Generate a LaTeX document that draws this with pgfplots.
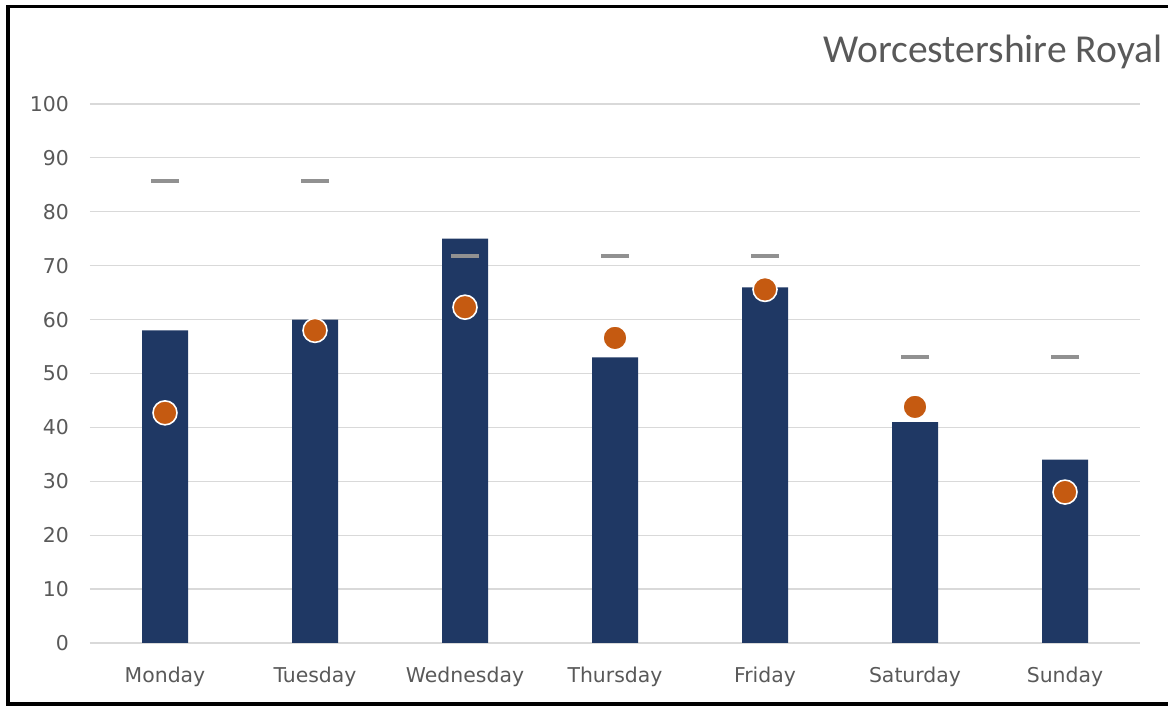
\documentclass[border=0pt]{standalone}
\usepackage{pgfplots}
\pgfplotsset{compat=1.18}
\usepackage{fontspec}
\setmainfont{DejaVu Sans}
\newfontfamily\titlefont{Carlito}
\definecolor{barnavy}{RGB}{31,56,100}
\definecolor{dotorange}{RGB}{197,90,17}
\definecolor{dashgray}{RGB}{145,145,145}
\definecolor{gridgray}{RGB}{217,217,217}
\definecolor{labelgray}{RGB}{89,89,89}

\begin{document}
\begin{tikzpicture}[x=1pt,y=1pt]
\useasboundingbox (0,0) rectangle (584,353);
\draw[line width=1.6pt] (4,1) rectangle (600,349.8);
\node[anchor=east,inner sep=0pt,text=labelgray,
  font=\titlefont\fontsize{19.8}{22}\selectfont] at (581.5,327) {Worcestershire Royal};
\begin{axis}[
  at={(45pt,31.5pt)}, anchor=south west,
  scale only axis,
  width=525pt, height=269.5pt,
  xmin=-0.5, xmax=6.5,
  ymin=0, ymax=100,
  axis line style={draw=none},
  major tick length=0pt,
  xtick={0,...,6},
  xticklabels={Monday,Tuesday,Wednesday,Thursday,Friday,Saturday,Sunday},
  ytick={0,10,...,100},
  ymajorgrids,
  grid style={draw=gridgray,line width=0.6pt},
  tick label style={font=\fontsize{10.2}{12}\selectfont,text=labelgray},
  /pgf/number format/assume math mode=true,
  xticklabel style={yshift=-8.5pt},
  yticklabel style={xshift=-7pt},
  clip=false,
]
\addplot[ybar,bar width=23pt,fill=barnavy,draw=none] coordinates {
  (0,58) (1,60) (2,75) (3,53) (4,66) (5,41) (6,34)
};
\addplot[only marks,mark=-,mark size=7pt,draw=dashgray,line width=2.2pt] coordinates {
  (0,85.7) (1,85.7) (2,71.8) (3,71.8) (4,71.8) (5,53.1) (6,53.1)
};
\addplot[only marks,mark=*,mark size=6pt,
  mark options={fill=dotorange,draw=white,line width=0.8pt}] coordinates {
  (0,42.7) (1,58) (2,62.3) (3,56.6) (4,65.6) (5,43.8) (6,28)
};
\end{axis}
\end{tikzpicture}
\end{document}
